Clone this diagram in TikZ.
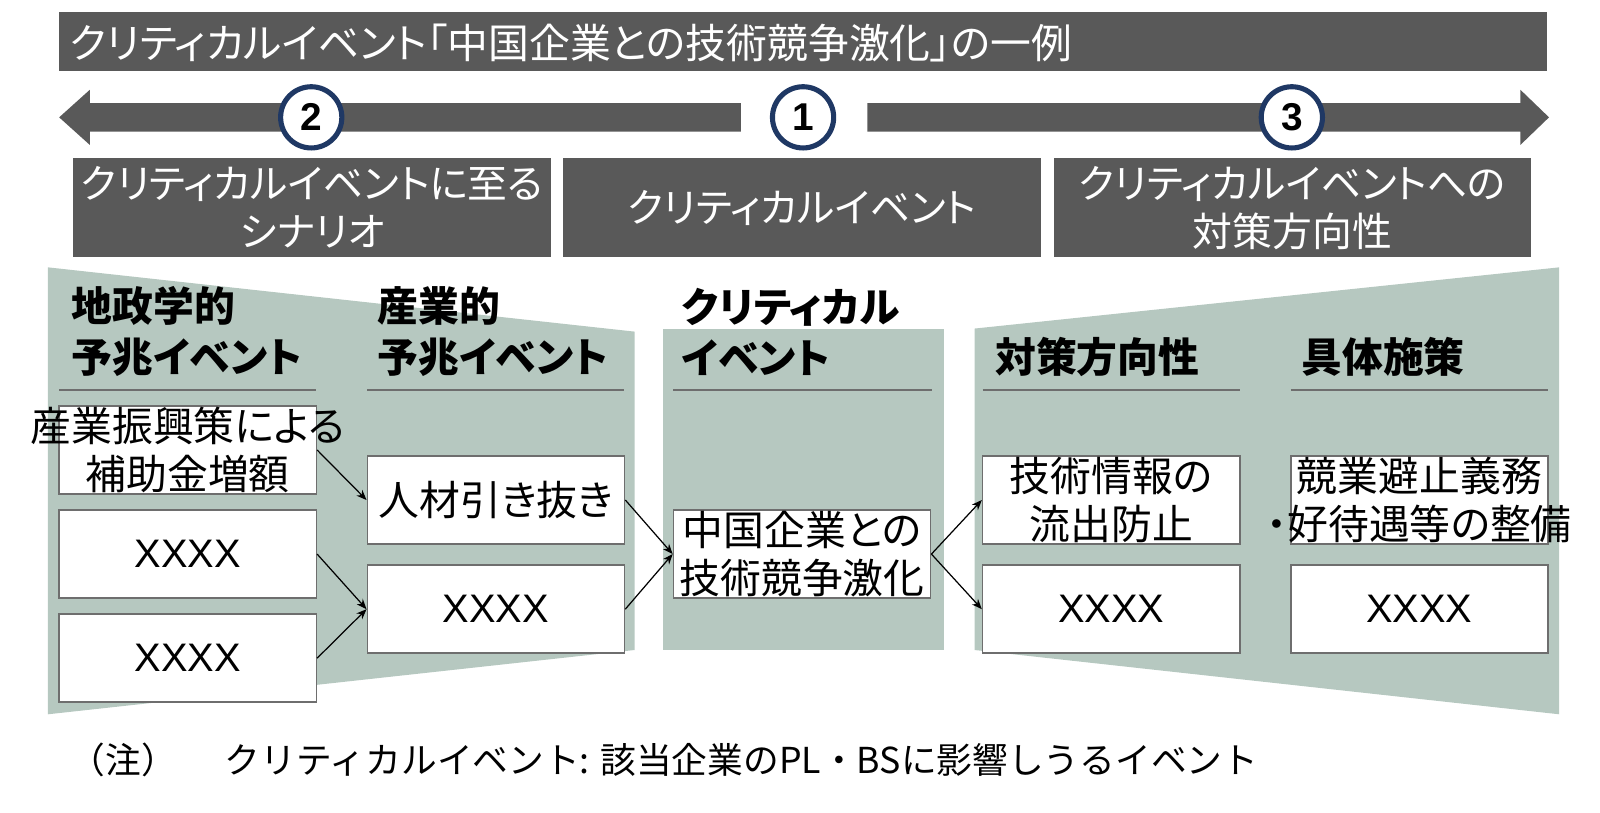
\documentclass[tikz,border=0pt]{standalone}
\usepackage{fontspec}
\setmainfont{Noto Sans CJK JP}[RawFeature={+palt}]
\newfontfamily\jpfull{Noto Sans CJK JP}
\newfontfamily\numfont{Liberation Sans}
\usetikzlibrary{arrows.meta}
\definecolor{dgray}{RGB}{89,89,89}
\definecolor{pgreen}{RGB}{182,200,192}
\definecolor{navy}{RGB}{31,56,100}
\definecolor{bgray}{RGB}{110,110,110}
\begin{document}
\begin{tikzpicture}[x=0.5pt,y=-0.5pt,
  darkbar/.style={fill=dgray,draw=none},
  hdrbox/.style={fill=dgray,draw=none,minimum width=234pt,minimum height=48.5pt,inner sep=0,
    text=white,align=center,font=\fontsize{19.5}{23.5}\selectfont},
  numcirc/.style={circle,draw=navy,line width=2.5pt,fill=white,minimum size=30pt,inner sep=0,
    font=\numfont\bfseries\fontsize{19}{19}\selectfont},
  colhead/.style={anchor=west,align=left,inner sep=0,font=\bfseries\fontsize{20}{25}\selectfont},
  uline/.style={draw=bgray,line width=1pt},
  evbox/.style={draw=bgray,line width=0.8pt,fill=white,minimum width=126pt,minimum height=43pt,inner sep=0},
  evtext/.style={align=center,inner sep=0,font=\fontsize{20}{23.5}\selectfont},
  xtext/.style={inner sep=0,font=\numfont\fontsize{19.5}{19.5}\selectfont},
  link/.style={draw=black,line width=0.6pt,-{Stealth[length=5pt,width=4pt]}}
]
\useasboundingbox (0,0) rectangle (1568,796);

% title bar
\fill[darkbar] (58,12) rectangle (1516,70);
\node[anchor=west,text=white,inner sep=0,font=\fontsize{20}{20}\selectfont] (title) at (68,42)
  {クリティカルイベント「中国企業との技術競争激化」の一例};

% timeline arrows
\fill[darkbar] (58,115) -- (88,88) -- (88,101) -- (726,101) -- (726,129) -- (88,129) -- (88,142) -- cycle;
\fill[darkbar] (850,101) -- (1490,101) -- (1490,88) -- (1518,115) -- (1490,142) -- (1490,129) -- (850,129) -- cycle;
\node[numcirc] (n2) at (305,115) {2};
\node[numcirc] (n1) at (787,115) {1};
\node[numcirc] (n3) at (1266,115) {3};

% header boxes
\node[hdrbox] (hA) at (306,203.5) {クリティカルイベントに至る\\シナリオ};
\node[hdrbox] (hB) at (786,203.5) {クリティカルイベント};
\node[hdrbox] (hC) at (1266.5,203.5) {クリティカルイベントへの\\対策方向性};

% green areas
\fill[pgreen] (47,262) -- (622,325) -- (622,637) -- (47,700) -- cycle;
\fill[pgreen] (650,322) rectangle (925,637);
\fill[pgreen] (955,322) -- (1528,262) -- (1528,700) -- (955,637) -- cycle;

% column headers
\node[colhead] (c1) at (70,325) {地政学的\\予兆イベント};
\node[colhead] (c2) at (370,325) {産業的\\予兆イベント};
\node[colhead] (c3) at (668,325) {クリティカル\\イベント};
\node[colhead] (c4) at (975,350) {対策方向性};
\node[colhead] (c5) at (1275,350) {具体施策};
\draw[uline] (58,382) -- (310,382);
\draw[uline] (360,382) -- (612,382);
\draw[uline] (660,382) -- (913,382);
\draw[uline] (963,382) -- (1215,382);
\draw[uline] (1265,382) -- (1517,382);

% event boxes
\node[evbox] (L1) at (184,441) {};
\node[evtext] at (L1.center) {産業振興策による\\補助金増額};
\node[evbox] (L2) at (184,543) {};
\node[xtext] at (L2.center) {XXXX};
\node[evbox] (L3) at (184,645) {};
\node[xtext] at (L3.center) {XXXX};
\node[evbox] (M1) at (486,490) {};
\node[evtext] at (M1.center) {人材引き抜き};
\node[evbox] (M2) at (486,597) {};
\node[xtext] at (M2.center) {XXXX};
\node[evbox] (C) at (786,543) {};
\node[evtext] at (C.center) {中国企業との\\技術競争激化};
\node[evbox] (R1) at (1089,490) {};
\node[evtext] at (R1.center) {技術情報の\\流出防止};
\node[evbox] (R2) at (1089,597) {};
\node[xtext] at (R2.center) {XXXX};
\node[evbox] (S1) at (1391,490) {};
\node[evtext] at (S1.center) {競業避止義務\\・好待遇等の整備};
\node[evbox] (S2) at (1391,597) {};
\node[xtext] at (S2.center) {XXXX};

% connectors
\draw[link] (L1.east) -- (M1.west);
\draw[link] (L2.east) -- (M2.west);
\draw[link] (L3.east) -- (M2.west);
\draw[link] (M1.east) -- (C.west);
\draw[link] (M2.east) -- (C.west);
\draw[link] (C.east) -- (R1.west);
\draw[link] (C.east) -- (R2.west);

% footnote
\node[anchor=west,inner sep=0,font=\jpfull\fontsize{17.5}{17.5}\selectfont] (fn1) at (68,745) {（注）};
\node[anchor=west,inner sep=0,font=\jpfull\fontsize{17.5}{17.5}\selectfont] (fn2) at (220,745)
  {クリティカルイベント: 該当企業のPL・BSに影響しうるイベント};
\end{tikzpicture}
\end{document}
